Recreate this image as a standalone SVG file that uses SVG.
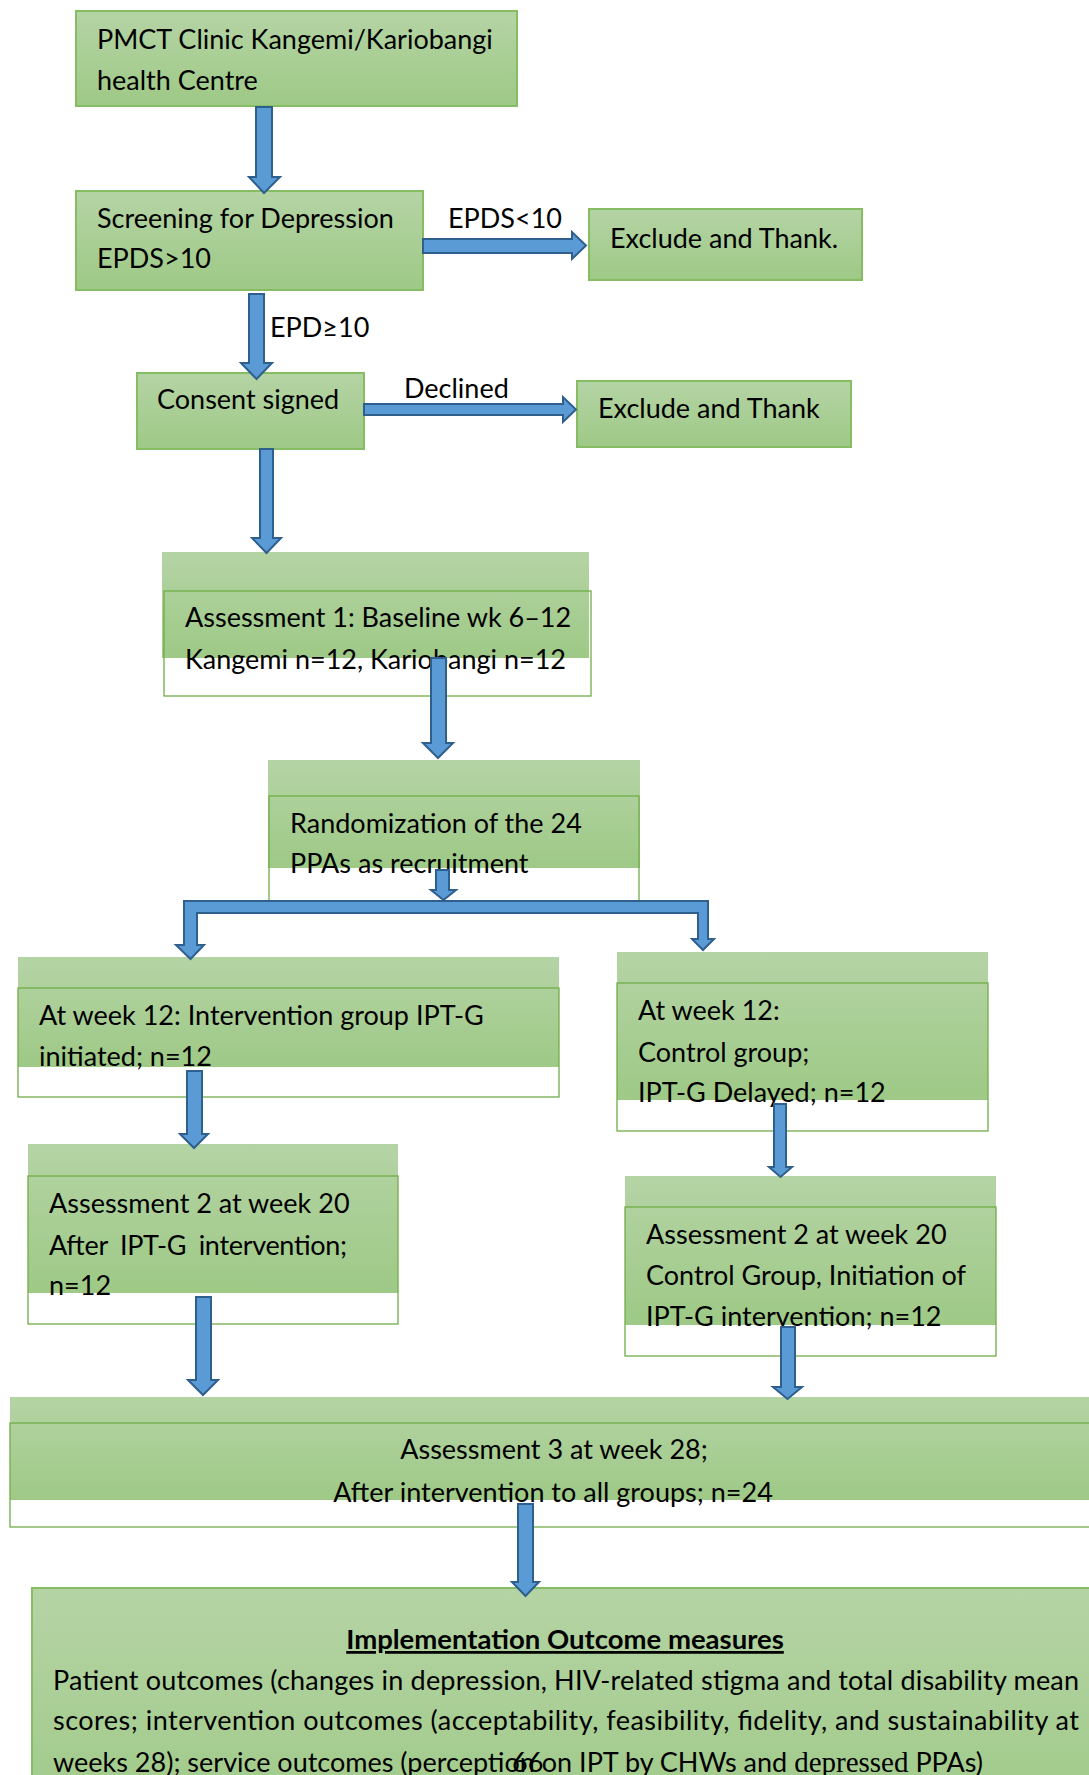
<svg xmlns="http://www.w3.org/2000/svg" width="1089" height="1775" viewBox="0 0 1089 1775">
<defs>
<linearGradient id="g" x1="0" y1="0" x2="0" y2="1">
<stop offset="0" stop-color="#b5d4a5"/>
<stop offset="1" stop-color="#9ec986"/>
</linearGradient>
<style>
.box{fill:url(#g);stroke:#86bd63;stroke-width:2}
.band{fill:url(#g);stroke:none}
.out{fill:none;stroke:#70ad47;stroke-width:1.3}
.t{font-family:Lato,"Liberation Sans",sans-serif;font-size:27px;fill:#000}
.c{text-anchor:middle}
.arr{fill:#5b9bd5;stroke:#2f5f8c;stroke-width:2;stroke-linejoin:miter}
</style>
</defs>
<rect width="1089" height="1775" fill="#fff"/>

<g id="n1">
<rect class="box" x="76" y="11" width="441" height="95"/>
<text class="t" x="97" y="49">PMCT Clinic Kangemi/Kariobangi</text>
<text class="t" x="97" y="90">health Centre</text>
</g>

<g id="n2">
<rect class="box" x="76" y="191" width="347" height="99"/>
<text class="t" x="97" y="228">Screening for Depression</text>
<text class="t" x="97" y="268">EPDS&gt;10</text>
</g>

<g id="n3">
<rect class="box" x="589" y="209" width="273" height="71"/>
<text class="t" x="610" y="248">Exclude and Thank.</text>
</g>

<g id="n4">
<rect class="box" x="137" y="373" width="227" height="76"/>
<text class="t" x="157" y="409">Consent signed</text>
</g>

<g id="n5">
<rect class="box" x="577" y="381" width="274" height="66"/>
<text class="t" x="598" y="418">Exclude and Thank</text>
</g>

<g id="n6">
<rect class="band" x="162" y="552" width="427" height="106"/>
<rect class="out" x="164" y="591" width="427" height="105"/>
<text class="t" x="185" y="627">Assessment 1: Baseline wk 6–12</text>
<text class="t" x="185" y="669">Kangemi n=12, Kariobangi n=12</text>
</g>

<g id="n7">
<rect class="band" x="268" y="760" width="372" height="108"/>
<rect class="out" x="269" y="796" width="370" height="107"/>
<text class="t" x="290" y="833">Randomization of the 24</text>
<text class="t" x="290" y="873">PPAs as recruitment</text>
</g>

<g id="n8">
<rect class="band" x="18" y="957" width="541" height="110"/>
<rect class="out" x="18" y="988" width="541" height="109"/>
<text class="t" x="39" y="1025">At week 12: Intervention group IPT-G</text>
<text class="t" x="39" y="1066">initiated; n=12</text>
</g>

<g id="n9">
<rect class="band" x="617" y="952" width="371" height="148"/>
<rect class="out" x="617" y="983" width="371" height="148"/>
<text class="t" x="638" y="1020">At week 12:</text>
<text class="t" x="638" y="1062">Control group;</text>
<text class="t" x="638" y="1102">IPT-G Delayed; n=12</text>
</g>

<g id="n10">
<rect class="band" x="28" y="1144" width="370" height="149"/>
<rect class="out" x="28" y="1176" width="370" height="148"/>
<text class="t" x="49" y="1213">Assessment 2 at week 20</text>
<text class="t" x="49" y="1255" textLength="298" lengthAdjust="spacing" style="word-spacing:6px">After IPT-G intervention;</text>
<text class="t" x="49" y="1295">n=12</text>
</g>

<g id="n11">
<rect class="band" x="625" y="1176" width="371" height="149"/>
<rect class="out" x="625" y="1207" width="371" height="149"/>
<text class="t" x="646" y="1244">Assessment 2 at week 20</text>
<text class="t" x="646" y="1285">Control Group, Initiation of</text>
<text class="t" x="646" y="1326">IPT-G intervention; n=12</text>
</g>

<g id="n12">
<rect class="band" x="10" y="1397" width="1100" height="103"/>
<rect class="out" x="10" y="1423" width="1100" height="104"/>
<text class="t c" x="554" y="1459">Assessment 3 at week 28;</text>
<text class="t c" x="553" y="1502">After intervention to all groups; n=24</text>
</g>

<g id="n13">
<rect class="box" x="32" y="1588" width="1100" height="250"/>
<text class="t c" x="565" y="1649" style="font-weight:bold;text-decoration:underline;font-size:27.5px">Implementation Outcome measures</text>
<text class="t" x="53" y="1690" textLength="1026" lengthAdjust="spacing">Patient outcomes (changes in depression, HIV-related stigma and total disability mean</text>
<text class="t" x="53" y="1730" textLength="1026" lengthAdjust="spacing">scores; intervention outcomes (acceptability, feasibility, fidelity, and sustainability at</text>
<text class="t" x="53" y="1772">weeks 28); service outcomes (perception on IPT by CHWs and <tspan style="font-family:'Liberation Serif',serif;font-size:29px">depressed</tspan> PPAs)</text>
<text class="t" x="512" y="1772">66</text>
</g>

<g id="connectors">
<polygon class="arr" points="256,107 272,107 272,177 280,177 264,193 249,177 256,177"/>
<polygon class="arr" points="249,294 264,294 264,363 272,363 256.5,379 241,363 249,363"/>
<polygon class="arr" points="423,239 572,239 572,232 586,245.5 572,259 572,253 423,253"/>
<polygon class="arr" points="364,404 563,404 563,397 576,409.5 563,422 563,415 364,415"/>
<polygon class="arr" points="260,449 273,449 273,538 281,538 266.5,553 252,538 260,538"/>
<polygon class="arr" points="431,658 446,658 446,743 453,743 438,758 423,743 431,743"/>
<polygon class="arr" points="436,870 449,870 449,890 456,890 443.5,900 431,890 436,890"/>
<path class="arr" d="M184,901 L708,901 L708,939 L714,939 L703,950 L692,939 L698,939 L698,913 L197,913 L197,945 L204,945 L190.5,959 L176,945 L184,945 Z"/>
<polygon class="arr" points="187,1071 202,1071 202,1134 208,1134 194,1148 180,1134 187,1134"/>
<polygon class="arr" points="774,1104 786,1104 786,1167 792,1167 780.5,1177 769,1167 774,1167"/>
<polygon class="arr" points="196,1297 211,1297 211,1380 218,1380 203,1395 188,1380 196,1380"/>
<polygon class="arr" points="781,1327 795,1327 795,1387 802,1387 787.5,1399 773,1387 781,1387"/>
<polygon class="arr" points="518,1504 533,1504 533,1582 539,1582 525.5,1596 512,1582 518,1582"/>
<text class="t" x="448" y="228">EPDS&lt;10</text>
<text class="t" x="270" y="337">EPD≥10</text>
<text class="t" x="404" y="398">Declined</text>
</g>
</svg>
